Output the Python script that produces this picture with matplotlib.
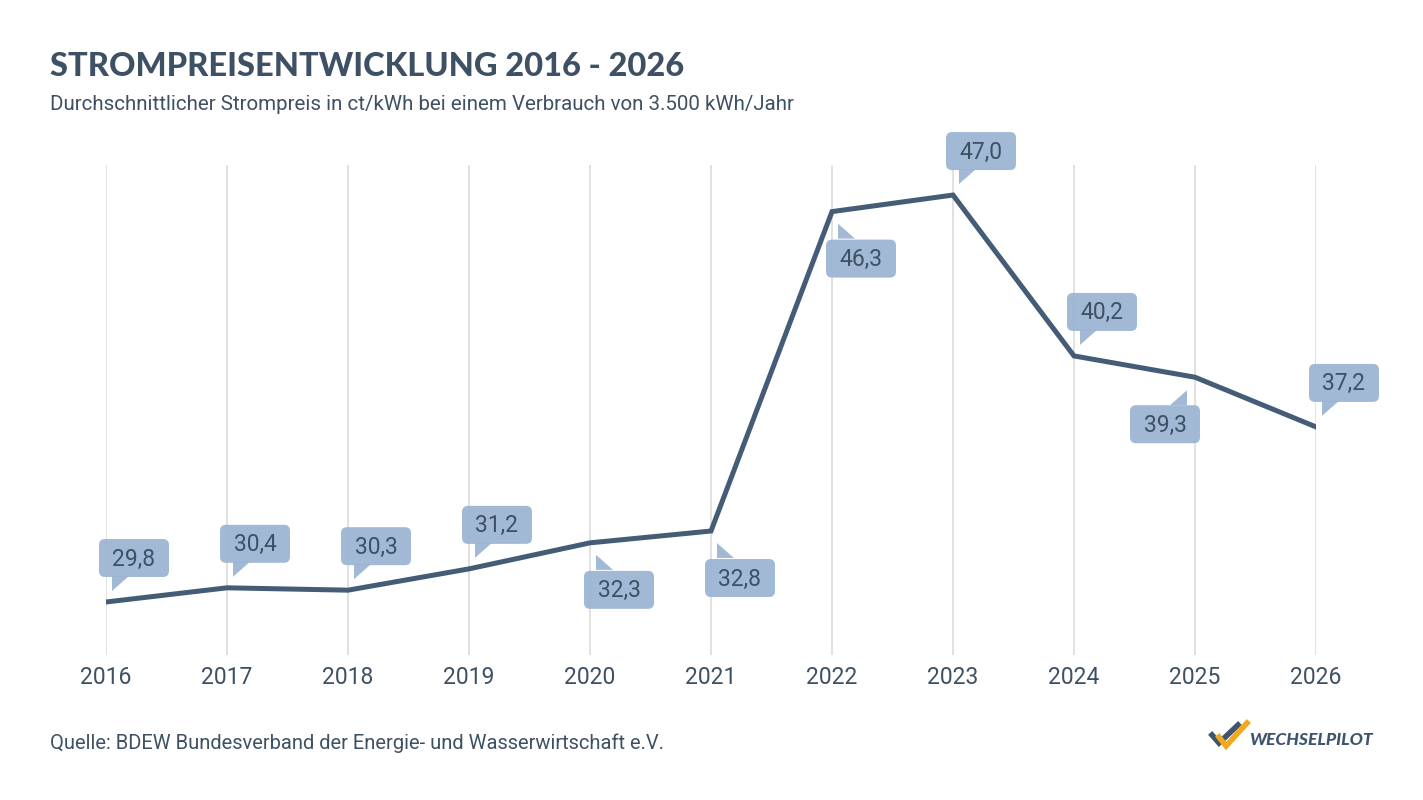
import matplotlib
matplotlib.use("Agg")
import matplotlib.pyplot as plt
import matplotlib.transforms as mtransforms
from matplotlib.patches import FancyBboxPatch, Polygon
from matplotlib.lines import Line2D

years = [2016, 2017, 2018, 2019, 2020, 2021, 2022, 2023, 2024, 2025, 2026]
prices = [29.8, 30.4, 30.3, 31.2, 32.3, 32.8, 46.3, 47.0, 40.2, 39.3, 37.2]
label_side = ["above", "above", "above", "above", "below", "below",
              "below", "above", "above", "below_left", "above"]

TITLE = "STROMPREISENTWICKLUNG 2016 - 2026"
SUBTITLE = "Durchschnittlicher Strompreis in ct/kWh bei einem Verbrauch von 3.500 kWh/Jahr"
SOURCE = "Quelle: BDEW Bundesverband der Energie- und Wasserwirtschaft e.V."

DARK = "#3e5064"
LINE = "#455c77"
BOX = "#9ab3d3"
GRID = "#dcdcdc"

plt.rcParams["font.family"] = ["Roboto", "DejaVu Sans"]

W, H = 1423, 800
fig = plt.figure(figsize=(W / 100, H / 100), dpi=100)
fig.patch.set_facecolor("white")

ax = fig.add_axes([106 / W, 1 - 655 / H, 1210 / W, 490 / H])
ax.set_xlim(2016, 2026)
ax.set_ylim(27.56, 48.27)
for s in ax.spines.values():
    s.set_visible(False)
ax.set_yticks([])
ax.set_xticks(years)
ax.set_xticklabels([str(y) for y in years], fontsize=16.5, color=DARK)
ax.tick_params(axis="x", length=0, pad=8)
ax.grid(axis="x", color=GRID, lw=1.2, zorder=0)

ax.plot(years, prices, color=LINE, lw=3.6, solid_joinstyle="miter", zorder=3)

# callout boxes, offsets in pixels relative to the data point
scale = fig.dpi / 100
for x, v, side in zip(years, prices, label_side):
    trans = mtransforms.Affine2D().scale(scale) + mtransforms.ScaledTranslation(x, v, ax.transData)
    if side == "above":
        x0, y0 = -7, 25
        tail = [(6, 26), (6, 11), (23, 26)]
    elif side == "below":
        x0, y0 = -6, -66
        tail = [(6, -27), (6, -12), (23, -27)]
    else:
        x0, y0 = -65, -66
        tail = [(-8, -28), (-8, -13), (-25, -28)]
    box = FancyBboxPatch((x0 + 6, y0 + 6), 70 - 12, 38 - 12,
                         boxstyle="round,pad=6,rounding_size=6",
                         fc=BOX, ec="none", alpha=0.92, transform=trans,
                         clip_on=False, zorder=4)
    ax.add_patch(box)
    ax.add_patch(Polygon(tail, closed=True, fc=BOX, ec="none", alpha=0.92,
                         transform=trans, clip_on=False, zorder=4))
    ax.text(x0 + 35, y0 + 18, f"{v:.1f}".replace(".", ","), transform=trans,
            ha="center", va="center", fontsize=16.5, color=DARK, zorder=5)

fig.text(50 / W, 1 - 66 / H, TITLE, fontsize=23.5, fontweight="black",
         color=DARK, va="center", family=["Lato", "DejaVu Sans"])
fig.text(50 / W, 1 - 104 / H, SUBTITLE, fontsize=14.8, color=DARK, va="center")
fig.text(50 / W, 1 - 743 / H, SOURCE, fontsize=14.5, color=DARK, va="center")

# logo
def fp(px, py):
    return (px / W, 1 - py / H)

fig.add_artist(Line2D(*zip(*[fp(1212, 735), fp(1219, 743), fp(1238, 725)]),
                      transform=fig.transFigure, color="#3e5570", lw=4,
                      solid_joinstyle="miter"))
fig.add_artist(Line2D(*zip(*[fp(1219, 737), fp(1226, 746), fp(1247, 723)]),
                      transform=fig.transFigure, color="#f2a81d", lw=4,
                      solid_joinstyle="miter"))
fig.text(1249 / W, 1 - 740 / H, "WECHSELPILOT", fontsize=12.6, fontweight="black",
         style="italic", color="#3e5570", va="center", family=["Lato", "DejaVu Sans"])

fig.savefig("out.png", dpi=100)
